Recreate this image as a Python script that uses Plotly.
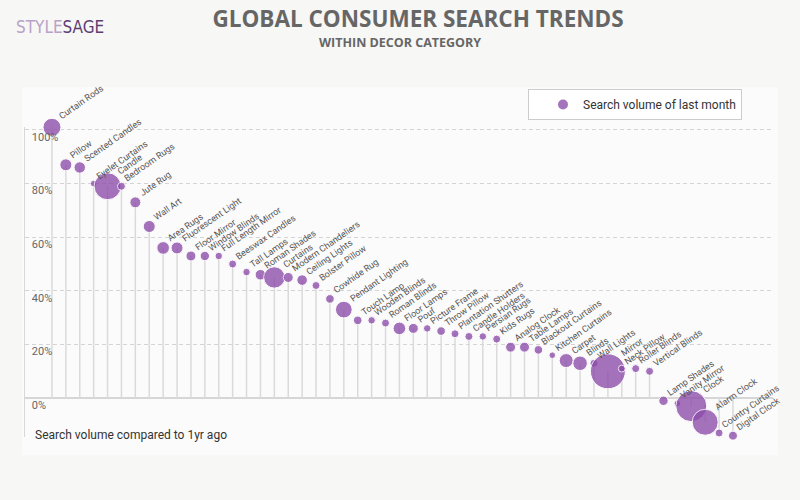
import math
import plotly.graph_objects as go

# ---------------- data ----------------
categories = [
    "Curtain Rods", "Pillow", "Scented Candles", "Eyelet Curtains", "Candle",
    "Bedroom Rugs", "Jute Rug", "Wall Art", "Area Rugs", "Fluorescent Light",
    "Floor Mirror", "Window Blinds", "Full Length Mirror", "Beeswax Candles", "Tall Lamps",
    "Roman Shades", "Curtains", "Modern Chandeliers", "Ceiling Lights", "Bolster Pillow",
    "Cowhide Rug", "Pendant Lighting", "Touch Lamp", "Wooden Blinds", "Roman Blinds",
    "Floor Lamps", "Pouf", "Picture Frame", "Throw Pillow", "Plantation Shutters",
    "Candle Holders", "Persian Rugs", "Kids Rugs", "Analog Clock", "Table Lamps",
    "Blackout Curtains", "Kitchen Curtains", "Carpet", "Blinds", "Wall Lights",
    "Mirror", "Neck Pillow", "Roller Blinds", "Vertical Blinds", "Lamp Shades",
    "Vanity Mirror", "Clock", "Alarm Clock", "Country Curtains", "Digital Clock",
]

# search volume compared to 1 yr ago (%)
change_vs_last_year = [
    101, 87, 86, 80, 79,
    79, 73, 64, 56, 56,
    53, 53, 53, 50, 47,
    46, 45, 45, 44, 42,
    37, 33, 29, 29, 28,
    26, 26, 26, 25, 24,
    23, 23, 22, 19, 19,
    18, 16, 14, 13, 13,
    10, 11, 11, 10, -1,
    -2, -3, -9, -13, -14,
]

# search volume of last month (relative units)
volume_last_month = [
    810, 360, 325, 110, 1820,
    160, 300, 360, 400, 360,
    250, 220, 140, 160, 140,
    280, 1140, 250, 280, 160,
    185, 700, 185, 140, 160,
    400, 250, 140, 185, 160,
    160, 140, 160, 250, 250,
    185, 110, 490, 530, 160,
    3060, 120, 160, 160, 220,
    110, 2400, 1690, 160, 200,
]

y_ticks = [0, 20, 40, 60, 80, 100]
y_tick_text = [f"{t}%" for t in y_ticks]

title_text = "GLOBAL CONSUMER SEARCH TRENDS"
subtitle_text = "WITHIN DECOR CATEGORY"
legend_text = "Search volume of last month"
y_title_text = "Search volume compared to 1yr ago"

# ---------------- styling ----------------
W, H = 800, 500
M_L, M_R, M_T, M_B = 25, 27, 127, 63
PW, PH = W - M_L - M_R, H - M_T - M_B
SIZEREF = 5
PURPLE = "rgb(140,76,170)"
LABEL_ANGLE = 35
LABEL_SIZE = 9

n = len(categories)
xs = list(range(n))

stem_x, stem_y = [], []
for i, v in zip(xs, change_vs_last_year):
    stem_x += [i, i, None]
    stem_y += [0, v, None]

fig = go.Figure()
fig.add_trace(go.Scatter(
    x=stem_x, y=stem_y, mode="lines",
    line=dict(color="#dadada", width=1.5),
    hoverinfo="skip", showlegend=False,
))
fig.add_trace(go.Scatter(
    x=xs, y=change_vs_last_year, mode="markers",
    name=legend_text,
    text=categories,
    marker=dict(size=volume_last_month, sizemode="area", sizeref=SIZEREF,
                color=PURPLE, opacity=0.78,
                line=dict(color="white", width=1)),
    cliponaxis=False,
))

annotations = []
for i, v, vol in zip(xs, change_vs_last_year, volume_last_month):
    r = math.sqrt(vol / (2 * SIZEREF))
    annotations.append(dict(
        x=i, y=v, xref="x", yref="y", text=categories[i],
        textangle=-LABEL_ANGLE, showarrow=False,
        xanchor="left", yanchor="bottom", borderpad=0,
        xshift=0.75 * r - 3.0, yshift=0.75 * r - 1.5,
        font=dict(family="Roboto", size=LABEL_SIZE, color="#555555"),
    ))


def px_x(px):
    return (px - M_L) / PW


def px_y(py):
    return (H - M_B - py) / PH


annotations.append(dict(
    x=px_x(400), y=px_y(42), xref="paper", yref="paper", text=subtitle_text,
    showarrow=False, xanchor="center", yanchor="middle",
    font=dict(family="Open Sans", size=12.5, color="#666666", weight="bold"),
))
annotations.append(dict(
    x=px_x(14), y=px_y(27), xref="paper", yref="paper",
    text="<span style='color:#b8a2c8'>STYLE</span><span style='color:#5d3e74'>SAGE</span>",
    showarrow=False, xanchor="left", yanchor="middle",
    font=dict(family="DejaVu Sans Condensed, Roboto", size=17),
))
annotations.append(dict(
    x=px_x(33), y=px_y(435), xref="paper", yref="paper", text=y_title_text,
    showarrow=False, xanchor="left", yanchor="middle",
    font=dict(family="Roboto", size=12, color="#333333"),
))

fig.update_layout(
    width=W, height=H,
    margin=dict(l=M_L, r=M_R, t=M_T, b=M_B, autoexpand=False),
    paper_bgcolor="#f7f7f5",
    plot_bgcolor="rgba(0,0,0,0)",
    title=dict(text=title_text, xref="container", yref="container",
               x=418 / W, y=1 - 19 / H, xanchor="center", yanchor="middle",
               font=dict(family="Open Sans", size=22.5, color="#666666", weight="bold")),
    showlegend=True,
    legend=dict(xref="container", yref="container", x=528 / W, y=1 - 89 / H,
                xanchor="left", yanchor="top", bgcolor="white",
                bordercolor="#cccccc", borderwidth=1, itemsizing="constant",
                indentation=14,
                font=dict(family="Roboto", size=12, color="#333333")),
    xaxis=dict(range=[-1.94, 51.88], visible=False, fixedrange=True),
    yaxis=dict(range=[-14.5, 101.1], tickvals=y_ticks, ticktext=y_tick_text,
               ticklabelposition="inside", ticklabelshift=7, ticklabelstandoff=6,
               tickfont=dict(family="Roboto", size=11, color="#666666"),
               showgrid=True, gridcolor="#d4d4d4", griddash="4px,3px",
               zeroline=True, zerolinecolor="#d6d6d6", zerolinewidth=1.5,
               showline=True, linecolor="#d8d8d8", linewidth=1, ticks="",
               fixedrange=True),
    annotations=annotations,
    shapes=[dict(type="rect", xref="paper", yref="paper",
                 x0=px_x(22), x1=px_x(778), y0=px_y(455), y1=px_y(87),
                 fillcolor="#fbfbfb", line=dict(width=0), layer="below")],
)

fig.write_html("out.html")
